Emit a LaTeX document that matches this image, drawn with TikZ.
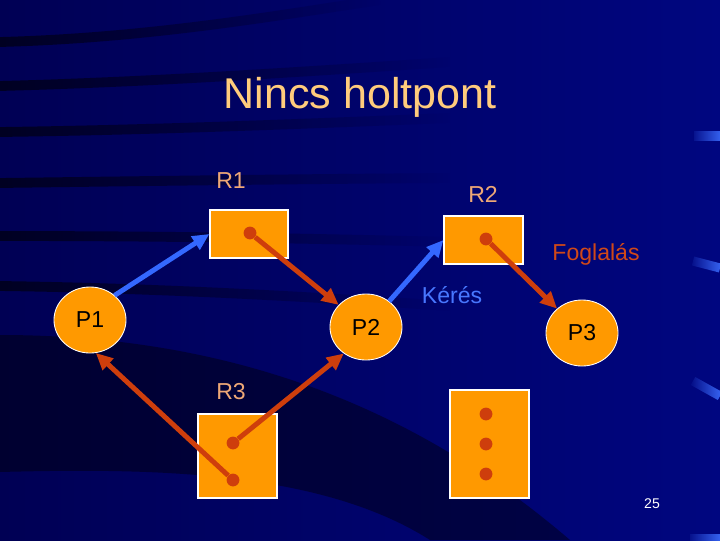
\documentclass[tikz,border=0pt]{standalone}
\usepackage{fontspec}
\setmainfont{Liberation Sans}
\usetikzlibrary{arrows.meta,shapes.geometric,fadings}
\definecolor{bgdark}{RGB}{0,0,84}
\definecolor{bglight}{RGB}{0,6,128}
\definecolor{titlec}{RGB}{255,204,124}
\definecolor{lblc}{RGB}{238,168,118}
\definecolor{resorange}{RGB}{255,153,0}
\definecolor{holdred}{RGB}{206,62,12}
\definecolor{reqblue}{RGB}{52,104,255}
\definecolor{barblue}{RGB}{60,110,255}

\begin{document}
\begin{tikzpicture}[x=0.025cm, y=-0.025cm, >={Triangle[length=4.2mm,width=3.8mm]},
  lbl/.style={font=\fontsize{16.4}{19}\selectfont, inner sep=0pt, anchor=base},
  proc/.style={ellipse, draw=white, line width=0.6pt, fill=resorange, text=black,
    minimum width=1.8cm, minimum height=1.65cm, inner sep=0pt, font=\fontsize{16.4}{19}\selectfont},
  res/.style={rectangle, draw=white, line width=0.8pt, fill=resorange, inner sep=0pt},
  rdot/.style={circle, fill=holdred, minimum size=3.2mm, inner sep=0pt},
  req/.style={->, reqblue, line width=3.5pt},
  hold/.style={->, holdred, line width=3.5pt},
  streak/.style={black, opacity=0.6, line width=7pt, path fading=east},
  bar/.style={barblue, line width=6.5pt, path fading=west}]
\useasboundingbox (0,0) rectangle (720,540);
\shade[left color=bgdark, right color=bglight] (0,0) rectangle (720,540);
\draw[streak] (0,42) .. controls (150,38) and (280,15) .. (380,0);
\draw[streak] (0,86) .. controls (150,82) and (300,72) .. (450,62);
\draw[streak] (0,132) .. controls (150,130) and (300,124) .. (450,118);
\draw[streak] (0,183) .. controls (150,181) and (300,179) .. (450,178);
\draw[streak] (0,236) .. controls (150,236) and (300,238) .. (450,242);
\draw[streak] (0,286) .. controls (150,288) and (300,296) .. (450,306);
\fill[black, opacity=0.42] (0,335) .. controls (250,335) and (430,420) .. (570,540)
  -- (430,540) .. controls (320,470) and (150,468) .. (0,472) -- cycle;
\draw[bar] (694,136) -- (720,136);
\draw[bar] (693,261) -- (720,268);
\draw[bar] (693,381) -- (720,396);
\draw[bar] (690,539) -- (720,539);

\node[font=\fontsize{30.6}{36}\selectfont, text=titlec, inner sep=0pt, anchor=base] (title) at (360,108) {Nincs holtpont};

\node[proc] (P1) at (90,320) {P1};
\node[proc] (P2) at (366,327) {P2};
\node[proc] (P3) at (582,333) {P3};
\node[res, minimum width=1.95cm, minimum height=1.2cm] (R1) at (249,234) {};
\node[res, minimum width=1.975cm, minimum height=1.2cm] (R2) at (483.5,240) {};
\node[res, minimum width=1.975cm, minimum height=2.1cm] (R3) at (237.5,456) {};
\node[res, minimum width=1.975cm, minimum height=2.7cm] (R4) at (489.5,444) {};
\node[rdot] (d1) at (250,233) {};
\node[rdot] (d2) at (486,239) {};
\node[rdot] (d3a) at (233,443) {};
\node[rdot] (d3b) at (233,480) {};
\node[rdot] (d4a) at (486,414) {};
\node[rdot] (d4b) at (486,444) {};
\node[rdot] (d4c) at (486,474) {};

\node[lbl, text=lblc] (lR1) at (231,188) {R1};
\node[lbl, text=lblc] (lR2) at (483,202) {R2};
\node[lbl, text=lblc] (lR3) at (231,399) {R3};
\node[lbl, text=reqblue!90!white] (lreq) at (452,303) {Kérés};
\node[lbl, text=holdred!95!white] (lhold) at (596,260) {Foglalás};
\node[font=\fontsize{10}{12}\selectfont, text=white, inner sep=0pt, anchor=base] (pnum) at (652,508) {25};

\draw[req] (P1.45) -- (R1.west);
\draw[req] (P2.48) -- (R2.west);
\draw[hold] (d1) -- (P2);
\draw[hold] (d2) -- (P3);
\draw[hold] (d3b) -- (P1.-80);
\draw[hold] (d3a) -- (P2.-130);
\end{tikzpicture}
\end{document}
